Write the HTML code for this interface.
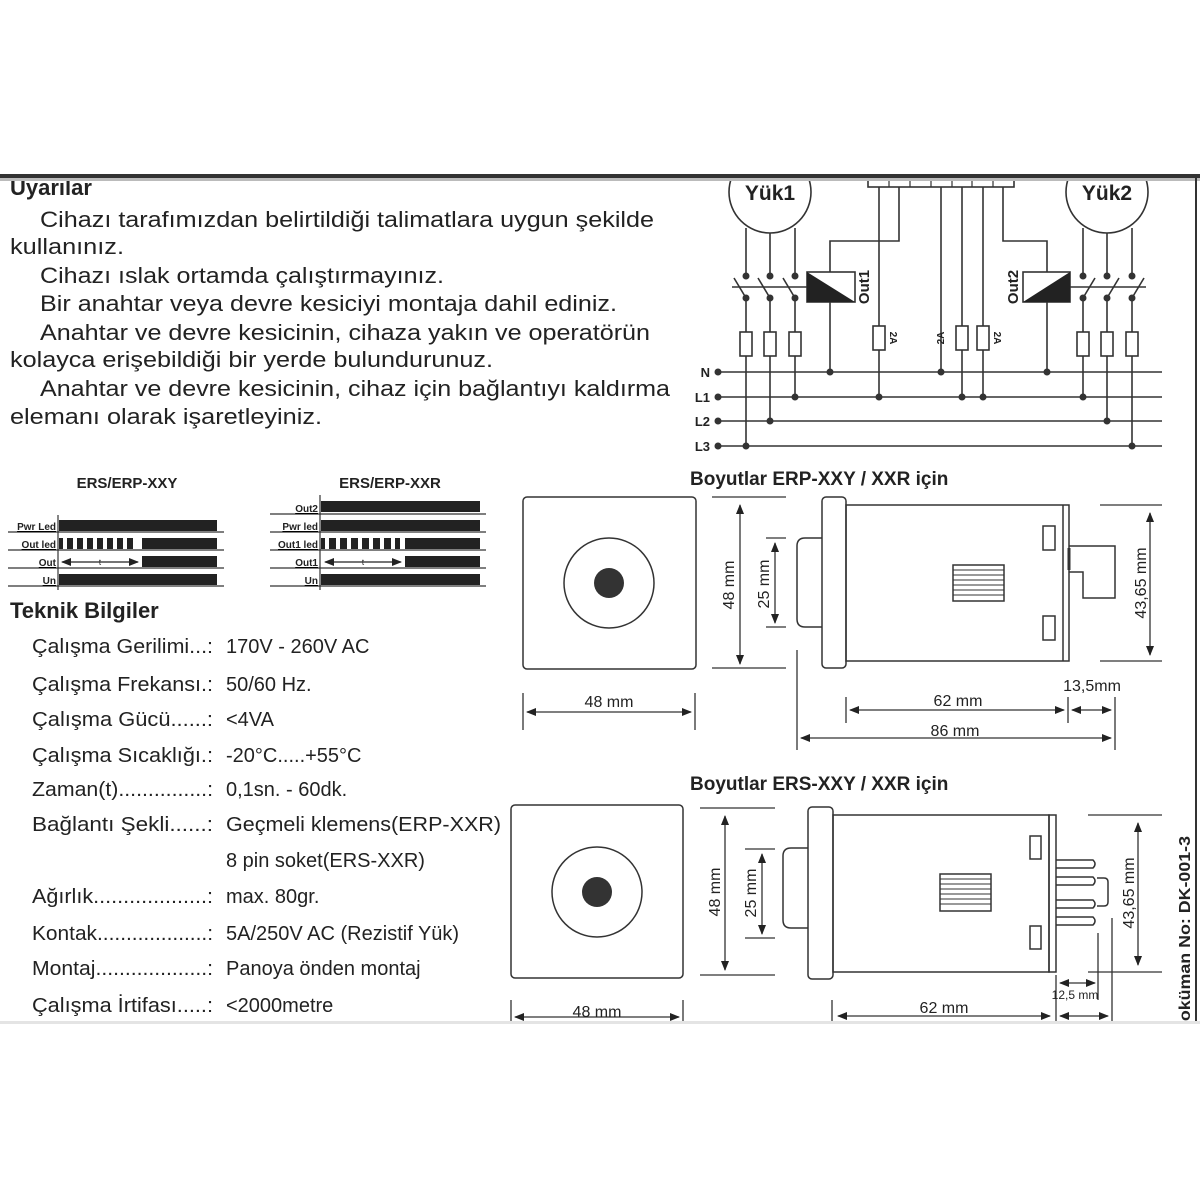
<!DOCTYPE html>
<html><head><meta charset="utf-8"><style>
html,body{margin:0;padding:0;background:#fff;}
svg{display:block;}
text{font-family:"Liberation Sans",Arial,sans-serif;fill:#222;}
</style></head><body>
<svg width="1200" height="1200" viewBox="0 0 1200 1200" xmlns="http://www.w3.org/2000/svg">
<defs>
<marker id="ar" markerWidth="10" markerHeight="8" refX="9" refY="4" orient="auto-start-reverse" markerUnits="userSpaceOnUse"><path d="M0,0 L10,4 L0,8 Z" fill="#222"/></marker>
</defs>
<rect width="1200" height="1200" fill="#fff"/>

<!-- Uyarılar -->
<g font-size="22" lengthAdjust="spacingAndGlyphs">
<text x="10" y="195" font-weight="bold">Uyarılar</text>
<text x="40" y="227" textLength="614" lengthAdjust="spacingAndGlyphs">Cihazı tarafımızdan belirtildiği talimatlara uygun şekilde</text>
<text x="10" y="254" textLength="114" lengthAdjust="spacingAndGlyphs">kullanınız.</text>
<text x="40" y="283" textLength="404" lengthAdjust="spacingAndGlyphs">Cihazı ıslak ortamda çalıştırmayınız.</text>
<text x="40" y="311" textLength="577" lengthAdjust="spacingAndGlyphs">Bir anahtar veya devre kesiciyi montaja dahil ediniz.</text>
<text x="40" y="340" textLength="610" lengthAdjust="spacingAndGlyphs">Anahtar ve devre kesicinin, cihaza yakın ve operatörün</text>
<text x="10" y="367" textLength="483" lengthAdjust="spacingAndGlyphs">kolayca erişebildiği bir yerde bulundurunuz.</text>
<text x="40" y="396" textLength="630" lengthAdjust="spacingAndGlyphs">Anahtar ve devre kesicinin, cihaz için bağlantıyı kaldırma</text>
<text x="10" y="424" textLength="312" lengthAdjust="spacingAndGlyphs">elemanı olarak işaretleyiniz.</text>
</g>

<!-- Circuit -->
<g stroke="#333" stroke-width="1.6" fill="none">
<circle cx="770" cy="192" r="41"/>
<circle cx="1107" cy="192" r="41"/>
</g>
<text x="770" y="200" font-size="21" font-weight="bold" text-anchor="middle">Yük1</text>
<text x="1107" y="200" font-size="21" font-weight="bold" text-anchor="middle">Yük2</text>
<g stroke="#333" stroke-width="1.6" fill="#fff">
<rect x="868" y="170" width="146" height="17"/>
</g>
<g stroke="#333" stroke-width="1.2">
<line x1="889" y1="170" x2="889" y2="187"/><line x1="910" y1="170" x2="910" y2="187"/><line x1="931" y1="170" x2="931" y2="187"/><line x1="952" y1="170" x2="952" y2="187"/><line x1="972" y1="170" x2="972" y2="187"/><line x1="993" y1="170" x2="993" y2="187"/>
</g>
<!-- mask above bar -->
<rect x="0" y="0" width="1200" height="174" fill="#fff"/>
<rect x="0" y="178" width="1200" height="3" fill="#bbb"/>
<rect x="0" y="174" width="1200" height="4" fill="#333"/>
<line x1="1196" y1="177" x2="1196" y2="1022" stroke="#333" stroke-width="2"/>

<g stroke="#333" stroke-width="1.6" fill="none">
<line x1="718" y1="372" x2="1162" y2="372"/>
<line x1="718" y1="397" x2="1162" y2="397"/>
<line x1="718" y1="421" x2="1162" y2="421"/>
<line x1="718" y1="446" x2="1162" y2="446"/>
<line x1="746" y1="228" x2="746" y2="276"/><line x1="746" y1="298" x2="746" y2="446"/>
<line x1="770" y1="233" x2="770" y2="276"/><line x1="770" y1="298" x2="770" y2="421"/>
<line x1="795" y1="228" x2="795" y2="276"/><line x1="795" y1="298" x2="795" y2="397"/>
<line x1="734" y1="278" x2="746" y2="298"/><line x1="758" y1="278" x2="770" y2="298"/><line x1="783" y1="278" x2="795" y2="298"/>
<line x1="732" y1="287" x2="807" y2="287"/>
<line x1="1083" y1="228" x2="1083" y2="276"/><line x1="1083" y1="298" x2="1083" y2="397"/>
<line x1="1107" y1="233" x2="1107" y2="276"/><line x1="1107" y1="298" x2="1107" y2="421"/>
<line x1="1132" y1="228" x2="1132" y2="276"/><line x1="1132" y1="298" x2="1132" y2="446"/>
<line x1="1095" y1="278" x2="1083" y2="298"/><line x1="1119" y1="278" x2="1107" y2="298"/><line x1="1144" y1="278" x2="1132" y2="298"/>
<line x1="1070" y1="287" x2="1146" y2="287"/>
<polyline points="899,187 899,241 830,241 830,272"/>
<line x1="830" y1="302" x2="830" y2="372"/>
<polyline points="1003,187 1003,241 1047,241 1047,272"/>
<line x1="1047" y1="302" x2="1047" y2="372"/>
<line x1="879" y1="187" x2="879" y2="397"/>
<line x1="941" y1="187" x2="941" y2="372"/>
<line x1="962" y1="187" x2="962" y2="397"/>
<line x1="983" y1="187" x2="983" y2="397"/>
</g>
<g stroke="#333" stroke-width="1.6" fill="#fff">
<rect x="740" y="332" width="12" height="24"/><rect x="764" y="332" width="12" height="24"/><rect x="789" y="332" width="12" height="24"/>
<rect x="1077" y="332" width="12" height="24"/><rect x="1101" y="332" width="12" height="24"/><rect x="1126" y="332" width="12" height="24"/>
<rect x="873" y="326" width="12" height="24"/><rect x="956" y="326" width="12" height="24"/><rect x="977" y="326" width="12" height="24"/>
<rect x="807" y="272" width="48" height="30"/>
<rect x="1023" y="272" width="47" height="30"/>
</g>
<polygon points="807,272 855,302 807,302" fill="#222"/>
<polygon points="1023,302 1070,272 1070,302" fill="#222"/>
<g fill="#333">
<circle cx="746" cy="276" r="3.5"/><circle cx="770" cy="276" r="3.5"/><circle cx="795" cy="276" r="3.5"/>
<circle cx="746" cy="298" r="3.5"/><circle cx="770" cy="298" r="3.5"/><circle cx="795" cy="298" r="3.5"/>
<circle cx="1083" cy="276" r="3.5"/><circle cx="1107" cy="276" r="3.5"/><circle cx="1132" cy="276" r="3.5"/>
<circle cx="1083" cy="298" r="3.5"/><circle cx="1107" cy="298" r="3.5"/><circle cx="1132" cy="298" r="3.5"/>
<circle cx="718" cy="372" r="3.5"/><circle cx="718" cy="397" r="3.5"/><circle cx="718" cy="421" r="3.5"/><circle cx="718" cy="446" r="3.5"/>
<circle cx="830" cy="372" r="3.5"/><circle cx="941" cy="372" r="3.5"/><circle cx="1047" cy="372" r="3.5"/>
<circle cx="795" cy="397" r="3.5"/><circle cx="879" cy="397" r="3.5"/><circle cx="962" cy="397" r="3.5"/><circle cx="983" cy="397" r="3.5"/><circle cx="1083" cy="397" r="3.5"/>
<circle cx="770" cy="421" r="3.5"/><circle cx="1107" cy="421" r="3.5"/>
<circle cx="746" cy="446" r="3.5"/><circle cx="1132" cy="446" r="3.5"/>
</g>
<g font-size="13" font-weight="bold">
<text x="710" y="377" text-anchor="end">N</text>
<text x="710" y="402" text-anchor="end">L1</text>
<text x="710" y="426" text-anchor="end">L2</text>
<text x="710" y="451" text-anchor="end">L3</text>
</g>
<text transform="translate(869,287) rotate(-90)" font-size="15" font-weight="bold" text-anchor="middle">Out1</text>
<text transform="translate(1018,287) rotate(-90)" font-size="15" font-weight="bold" text-anchor="middle">Out2</text>
<g font-size="10" font-weight="bold">
<text transform="translate(890,338) rotate(90)" text-anchor="middle">2A</text>
<text transform="translate(944,338) rotate(-90)" text-anchor="middle">2A</text>
<text transform="translate(994,338) rotate(90)" text-anchor="middle">2A</text>
</g>

<!-- Timing diagrams -->
<text x="127" y="488" font-size="15" font-weight="bold" text-anchor="middle">ERS/ERP-XXY</text>
<text x="390" y="488" font-size="15" font-weight="bold" text-anchor="middle">ERS/ERP-XXR</text>
<g stroke="#333" stroke-width="1.2">
<line x1="58" y1="515" x2="58" y2="590"/>
<line x1="8" y1="532" x2="224" y2="532"/><line x1="8" y1="550" x2="224" y2="550"/><line x1="8" y1="568" x2="224" y2="568"/><line x1="8" y1="586" x2="224" y2="586"/>
<line x1="320" y1="495" x2="320" y2="590"/>
<line x1="270" y1="514" x2="486" y2="514"/><line x1="270" y1="532" x2="486" y2="532"/><line x1="270" y1="550" x2="486" y2="550"/><line x1="270" y1="568" x2="486" y2="568"/><line x1="270" y1="586" x2="486" y2="586"/>
</g>
<g fill="#222">
<rect x="59" y="520" width="158" height="11"/>
<rect x="59" y="538" width="4" height="11"/><rect x="67" y="538" width="6" height="11"/><rect x="77" y="538" width="6" height="11"/><rect x="87" y="538" width="6" height="11"/><rect x="97" y="538" width="6" height="11"/><rect x="107" y="538" width="6" height="11"/><rect x="117" y="538" width="6" height="11"/><rect x="127" y="538" width="6" height="11"/>
<rect x="142" y="538" width="75" height="11"/>
<rect x="142" y="556" width="75" height="11"/>
<rect x="59" y="574" width="158" height="11"/>
<rect x="321" y="501" width="159" height="11"/>
<rect x="321" y="520" width="159" height="11"/>
<rect x="321" y="538" width="4" height="11"/><rect x="329" y="538" width="7" height="11"/><rect x="340" y="538" width="7" height="11"/><rect x="351" y="538" width="7" height="11"/><rect x="362" y="538" width="7" height="11"/><rect x="373" y="538" width="7" height="11"/><rect x="384" y="538" width="7" height="11"/><rect x="395" y="538" width="5" height="11"/>
<rect x="405" y="538" width="75" height="11"/>
<rect x="405" y="556" width="75" height="11"/>
<rect x="321" y="574" width="159" height="11"/>
</g>
<g stroke="#222" stroke-width="1.2">
<line x1="62" y1="562" x2="138" y2="562" marker-start="url(#ar)" marker-end="url(#ar)"/>
<line x1="325" y1="562" x2="401" y2="562" marker-start="url(#ar)" marker-end="url(#ar)"/>
</g>
<g font-size="10" font-weight="bold" text-anchor="end" text-decoration="underline">
<text x="56" y="530">Pwr Led</text><text x="56" y="548">Out led</text><text x="56" y="566">Out</text><text x="56" y="584">Un</text>
<text x="318" y="512">Out2</text><text x="318" y="530">Pwr led</text><text x="318" y="548">Out1 led</text><text x="318" y="566">Out1</text><text x="318" y="584">Un</text>
</g>
<text x="100" y="565" text-anchor="middle" font-size="8">t</text><text x="363" y="565" text-anchor="middle" font-size="8">t</text>

<!-- Teknik bilgiler -->
<text x="10" y="618" font-size="22" font-weight="bold">Teknik Bilgiler</text>
<g font-size="20" fill="#333">
<text x="32" y="653" textLength="181" lengthAdjust="spacingAndGlyphs">Çalışma Gerilimi...:</text><text x="226" y="653">170V - 260V AC</text>
<text x="32" y="691" textLength="181" lengthAdjust="spacingAndGlyphs">Çalışma Frekansı.:</text><text x="226" y="691">50/60 Hz.</text>
<text x="32" y="726" textLength="181" lengthAdjust="spacingAndGlyphs">Çalışma Gücü......:</text><text x="226" y="726">&lt;4VA</text>
<text x="32" y="762" textLength="181" lengthAdjust="spacingAndGlyphs">Çalışma Sıcaklığı.:</text><text x="226" y="762">-20°C.....+55°C</text>
<text x="32" y="796" textLength="181" lengthAdjust="spacingAndGlyphs">Zaman(t)...............:</text><text x="226" y="796">0,1sn. - 60dk.</text>
<text x="32" y="831" textLength="181" lengthAdjust="spacingAndGlyphs">Bağlantı Şekli......:</text><text x="226" y="831" textLength="275" lengthAdjust="spacingAndGlyphs">Geçmeli klemens(ERP-XXR)</text>
<text x="226" y="867">8 pin soket(ERS-XXR)</text>
<text x="32" y="903" textLength="181" lengthAdjust="spacingAndGlyphs">Ağırlık...................:</text><text x="226" y="903">max. 80gr.</text>
<text x="32" y="940" textLength="181" lengthAdjust="spacingAndGlyphs">Kontak...................:</text><text x="226" y="940">5A/250V AC (Rezistif Yük)</text>
<text x="32" y="975" textLength="181" lengthAdjust="spacingAndGlyphs">Montaj...................:</text><text x="226" y="975">Panoya önden montaj</text>
<text x="32" y="1012" textLength="181" lengthAdjust="spacingAndGlyphs">Çalışma İrtifası.....:</text><text x="226" y="1012">&lt;2000metre</text>
</g>

<!-- Boyutlar ERP -->
<text x="690" y="485" font-size="19" font-weight="bold">Boyutlar ERP-XXY / XXR için</text>
<g stroke="#333" stroke-width="1.5" fill="none">
<rect x="523" y="497" width="173" height="172" rx="4"/>
<circle cx="609" cy="583" r="45"/>
<rect x="822" y="497" width="24" height="171" rx="4"/>
<rect x="846" y="505" width="223" height="156"/>
<line x1="1063" y1="505" x2="1063" y2="661"/>
<path d="M822,538 L805,538 Q797,538 797,546 L797,619 Q797,627 805,627 L822,627"/>
<rect x="1043" y="526" width="12" height="24"/>
<rect x="1043" y="616" width="12" height="24"/>
<rect x="953" y="565" width="51" height="36"/>
<polyline points="1069,546 1115,546 1115,598 1083,598 1083,572 1069,572"/>
</g>
<g stroke="#333" stroke-width="1">
<line x1="953" y1="570" x2="1004" y2="570"/><line x1="953" y1="575" x2="1004" y2="575"/><line x1="953" y1="580" x2="1004" y2="580"/><line x1="953" y1="585" x2="1004" y2="585"/><line x1="953" y1="590" x2="1004" y2="590"/><line x1="953" y1="595" x2="1004" y2="595"/>
<line x1="1069" y1="548" x2="1069" y2="570" stroke-width="3"/>
</g>
<circle cx="609" cy="583" r="15" fill="#333"/>
<g stroke="#333" stroke-width="1.3" fill="none">
<line x1="523" y1="693" x2="523" y2="730"/><line x1="695" y1="693" x2="695" y2="730"/>
<line x1="527" y1="712" x2="691" y2="712" marker-start="url(#ar)" marker-end="url(#ar)"/>
<line x1="712" y1="497" x2="786" y2="497"/><line x1="712" y1="668" x2="786" y2="668"/>
<line x1="740" y1="505" x2="740" y2="664" marker-start="url(#ar)" marker-end="url(#ar)"/>
<line x1="766" y1="538" x2="786" y2="538"/><line x1="766" y1="627" x2="786" y2="627"/>
<line x1="775" y1="543" x2="775" y2="623" marker-start="url(#ar)" marker-end="url(#ar)"/>
<line x1="1100" y1="505" x2="1162" y2="505"/><line x1="1100" y1="661" x2="1162" y2="661"/>
<line x1="1150" y1="513" x2="1150" y2="655" marker-start="url(#ar)" marker-end="url(#ar)"/>
<line x1="797" y1="650" x2="797" y2="750"/><line x1="846" y1="697" x2="846" y2="723"/><line x1="1068" y1="697" x2="1068" y2="723"/><line x1="1115" y1="697" x2="1115" y2="750"/>
<line x1="850" y1="710" x2="1064" y2="710" marker-start="url(#ar)" marker-end="url(#ar)"/>
<line x1="1072" y1="710" x2="1111" y2="710" marker-start="url(#ar)" marker-end="url(#ar)"/>
<line x1="801" y1="738" x2="1111" y2="738" marker-start="url(#ar)" marker-end="url(#ar)"/>
</g>
<g font-size="16" fill="#333">
<text x="609" y="707" text-anchor="middle">48 mm</text>
<text transform="translate(734,585) rotate(-90)" text-anchor="middle">48 mm</text>
<text transform="translate(769,584) rotate(-90)" text-anchor="middle">25 mm</text>
<text transform="translate(1146,583) rotate(-90)" text-anchor="middle">43,65 mm</text>
<text x="958" y="706" text-anchor="middle">62 mm</text>
<text x="1092" y="691" text-anchor="middle">13,5mm</text>
<text x="955" y="736" text-anchor="middle">86 mm</text>
</g>

<!-- Boyutlar ERS -->
<text x="690" y="790" font-size="19" font-weight="bold">Boyutlar ERS-XXY / XXR için</text>
<g stroke="#333" stroke-width="1.5" fill="none">
<rect x="511" y="805" width="172" height="173" rx="4"/>
<circle cx="597" cy="892" r="45"/>
<rect x="808" y="807" width="25" height="172" rx="4"/>
<rect x="833" y="815" width="216" height="157"/>
<rect x="1049" y="815" width="7" height="157"/>
<path d="M808,848 L791,848 Q783,848 783,856 L783,920 Q783,928 791,928 L808,928"/>
<rect x="1030" y="836" width="11" height="23"/>
<rect x="1030" y="926" width="11" height="23"/>
<rect x="940" y="874" width="51" height="37"/>
<path d="M1056,860 L1093,860 Q1097,864 1093,868 L1056,868"/>
<path d="M1056,877 L1093,877 Q1097,881 1093,885 L1056,885"/>
<path d="M1056,900 L1093,900 Q1097,904 1093,908 L1056,908"/>
<path d="M1056,917 L1093,917 Q1097,921 1093,925 L1056,925"/>
<path d="M1097,878 L1104,878 Q1108,878 1108,882 L1108,902 Q1108,906 1104,906 L1097,906"/>
</g>
<g stroke="#333" stroke-width="1">
<line x1="940" y1="879" x2="991" y2="879"/><line x1="940" y1="884" x2="991" y2="884"/><line x1="940" y1="889" x2="991" y2="889"/><line x1="940" y1="894" x2="991" y2="894"/><line x1="940" y1="899" x2="991" y2="899"/><line x1="940" y1="904" x2="991" y2="904"/>
</g>
<circle cx="597" cy="892" r="15" fill="#333"/>
<g stroke="#333" stroke-width="1.3" fill="none">
<line x1="511" y1="1000" x2="511" y2="1030"/><line x1="683" y1="1000" x2="683" y2="1030"/>
<line x1="515" y1="1017" x2="679" y2="1017" marker-start="url(#ar)" marker-end="url(#ar)"/>
<line x1="700" y1="808" x2="775" y2="808"/><line x1="700" y1="975" x2="775" y2="975"/>
<line x1="725" y1="816" x2="725" y2="970" marker-start="url(#ar)" marker-end="url(#ar)"/>
<line x1="745" y1="849" x2="775" y2="849"/><line x1="745" y1="938" x2="775" y2="938"/>
<line x1="762" y1="854" x2="762" y2="934" marker-start="url(#ar)" marker-end="url(#ar)"/>
<line x1="1088" y1="815" x2="1162" y2="815"/><line x1="1088" y1="972" x2="1162" y2="972"/>
<line x1="1138" y1="823" x2="1138" y2="965" marker-start="url(#ar)" marker-end="url(#ar)"/>
<line x1="832" y1="1000" x2="832" y2="1030"/>
<line x1="1056" y1="975" x2="1056" y2="1030"/>
<line x1="1098" y1="933" x2="1098" y2="1000"/>
<line x1="1112" y1="918" x2="1112" y2="1030"/>
<line x1="1060" y1="983" x2="1095" y2="983" marker-start="url(#ar)" marker-end="url(#ar)"/>
<line x1="838" y1="1016" x2="1050" y2="1016" marker-start="url(#ar)" marker-end="url(#ar)"/>
<line x1="1060" y1="1016" x2="1108" y2="1016" marker-start="url(#ar)" marker-end="url(#ar)"/>
</g>
<g font-size="16" fill="#333">
<text x="597" y="1017" text-anchor="middle">48 mm</text>
<text transform="translate(720,892) rotate(-90)" text-anchor="middle">48 mm</text>
<text transform="translate(756,893) rotate(-90)" text-anchor="middle">25 mm</text>
<text transform="translate(1134,893) rotate(-90)" text-anchor="middle">43,65 mm</text>
<text x="944" y="1013" text-anchor="middle">62 mm</text>
<text x="1075" y="999" text-anchor="middle" font-size="12">12,5 mm</text>
</g>
<text transform="translate(1190,836) rotate(-90)" font-size="16" font-weight="bold" text-anchor="end" textLength="198" lengthAdjust="spacingAndGlyphs">Doküman No: DK-001-3</text>

<!-- bottom cut -->
<rect x="0" y="1023" width="1200" height="177" fill="#fff"/>
<rect x="0" y="1021" width="1200" height="3" fill="#e4e4e4"/>
</svg>
</body></html>
